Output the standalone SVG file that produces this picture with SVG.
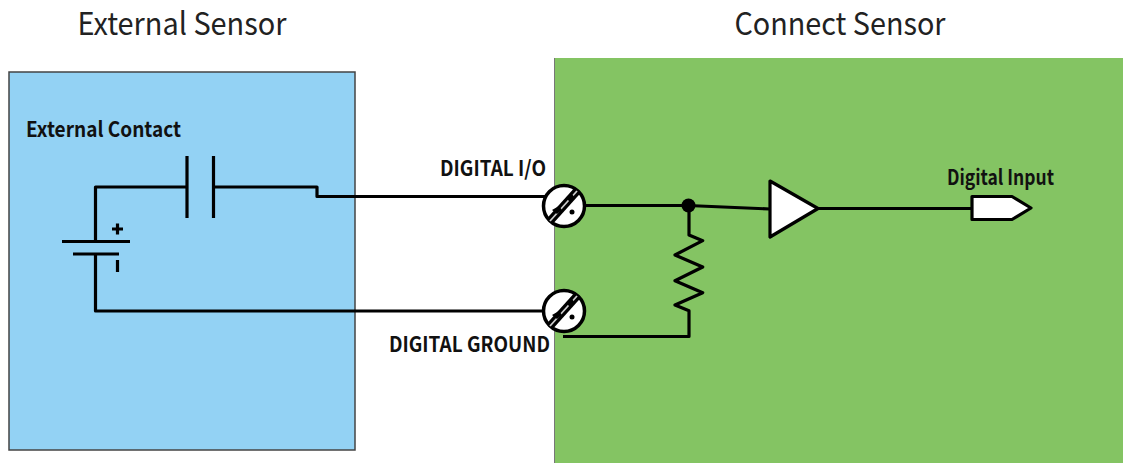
<svg xmlns="http://www.w3.org/2000/svg" width="1123" height="463" viewBox="0 0 1123 463">
<style>
text{font-family:"Noto Sans CJK SC","Noto Sans",sans-serif;fill:#111}
.t{font-size:31px;fill:#222}
.b{font-size:21px;font-weight:700}
.w{fill:none;stroke:#000;stroke-width:3.2;stroke-linejoin:round}
.s{fill:#fff;stroke:#000;stroke-width:3.200;stroke-linejoin:round}
</style>
<defs>
<g id="screw">
<circle r="20.500" fill="#fff" stroke="#000" stroke-width="3.500"/>
<path d="M-14 15L13-15" stroke="#000" stroke-width="8" fill="none"/>
<path d="M-14 15L13-15" stroke="#ccc" stroke-width="1.800" fill="none"/>
<path d="M-12 4L-5 0L-2 4L-7 8Z" fill="#000"/>
<path d="M2-8L8-12L11-8L6-4Z" fill="#000"/>
<circle cx="8" cy="6" r="2.500" fill="#000"/>
</g>
</defs>
<rect width="1123" height="463" fill="#fff"/>
<g id="external-sensor">
<rect x="9" y="72" width="346" height="378" fill="#93d2f4" stroke="#444" stroke-width="1.500"/>
<text class="t" x="182" y="35" text-anchor="middle" textLength="209" lengthAdjust="spacingAndGlyphs">External Sensor</text>
<text class="b" x="26" y="137" textLength="155" lengthAdjust="spacingAndGlyphs">External Contact</text>
</g>
<g id="connect-sensor">
<rect x="554.500" y="58" width="569" height="405" fill="#84c463"/>
<path d="M554.500 58V463" stroke="#777" stroke-width="1" fill="none"/>
<text class="t" x="840" y="35" text-anchor="middle" textLength="211" lengthAdjust="spacingAndGlyphs">Connect Sensor</text>
</g>
<g id="connectors">
<path class="w" d="M187 187H95.500V241M214 187H317V196.500H545"/>
<path class="w" d="M95.500 254V311H545"/>
<path class="w" d="M584 205.500H688L770 209"/>
<path class="w" d="M689 205.500V235L702.700 240.700L675 255L702.700 267L675 280.700L702.700 292.700L675 305L689 310.700V336.500H563"/>
<path class="w" d="M818 208.500H972"/>
</g>
<g id="capacitor">
<path class="w" d="M187 156V218M213.500 156V218"/>
</g>
<g id="battery">
<path class="w" d="M62 241.500H130M73 254H119"/>
<path class="w" d="M112 229H123M117.500 223.500V234.500M117.500 260V272"/>
</g>
<g id="digital-io">
<use href="#screw" x="564" y="206"/>
<text class="b" x="440" y="176" textLength="106" lengthAdjust="spacingAndGlyphs">DIGITAL I/O</text>
</g>
<g id="digital-ground">
<use href="#screw" x="564" y="311"/>
<text class="b" x="389" y="352" textLength="161" lengthAdjust="spacingAndGlyphs">DIGITAL GROUND</text>
</g>
<g id="junction"><circle cx="688.500" cy="205.500" r="7" fill="#000"/></g>
<g id="buffer"><path class="s" d="M770 181L818 208.500L770 237Z"/></g>
<g id="digital-input">
<path class="s" d="M972 196.500H1012L1031 208L1012 219.500H972Z"/>
<text class="b" x="947" y="185" textLength="107" lengthAdjust="spacingAndGlyphs">Digital Input</text>
</g>
</svg>
